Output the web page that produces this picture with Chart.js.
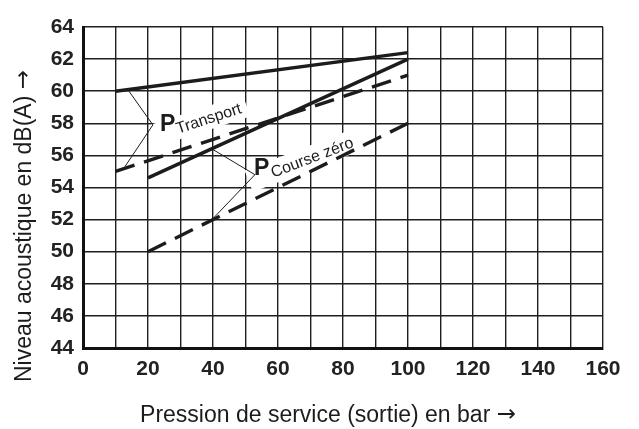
<!DOCTYPE html>
<html>
<head>
<meta charset="utf-8">
<script src="https://cdn.jsdelivr.net/npm/chart.js@4"></script>
<style>
  html, body { margin: 0; padding: 0; background: #fff; }
  canvas { display: block; }
</style>
</head>
<body>
<canvas id="c" width="639" height="429"></canvas>
<script>
// Pressure (bar) at start and end of each curve
const pressureTransport = [10, 100];
const pressureCourse = [20, 100];

// Noise level dB(A)
const levelTransportSolid = [60, 62.4];
const levelTransportDashed = [55, 61];
const levelCourseSolid = [54.6, 62];
const levelCourseDashed = [50, 58];

// Axis tick labels
const xTickLabels = [0, 20, 40, 60, 80, 100, 120, 140, 160];
const yTickLabels = [44, 46, 48, 50, 52, 54, 56, 58, 60, 62, 64];

const xTitle = 'Pression de service (sortie) en bar ';
const yTitle = 'Niveau acoustique en dB(A) ';
const ARROW = '\u2192';

// Curve labels: text, leader anchors (data units), text anchors (data units)
const curveLabels = [
  {
    main: 'P', sub: 'Transport',
    vertex: [21.5, 57.9],
    leaders: [[13.8, 60.1], [12.9, 55.3]],
    mainAt: [23.7, 57.55],
    subAt: [29.2, 57.35],
    angle: -18
  },
  {
    main: 'P', sub: 'Course z\u00e9ro',
    vertex: [52.9, 54.8],
    leaders: [[39.7, 56.4], [39.7, 52.0]],
    mainAt: [52.6, 54.75],
    subAt: [58.5, 54.6],
    angle: -21
  }
];

const INK = '#1c1c1c';

function pts(xs, ys) { return xs.map((x, i) => ({ x, y: ys[i] })); }

const SUB_FONT = '16px "Liberation Sans", Arial, sans-serif';
const MAIN_FONT = 'bold 23px "Liberation Sans", Arial, sans-serif';
const TITLE_FONT = '23px "Liberation Sans", Arial, sans-serif';
const ARROW_FONT = '23px "DejaVu Sans", sans-serif';

// Draws an axis title followed by an arrow, centred on (0,0) of the current transform
function drawTitle(ctx, text) {
  ctx.font = TITLE_FONT;
  const w1 = ctx.measureText(text).width;
  ctx.font = ARROW_FONT;
  const w2 = ctx.measureText(ARROW).width;
  const start = -(w1 + w2) / 2;
  ctx.textAlign = 'left';
  ctx.font = TITLE_FONT;
  ctx.fillText(text, start, 0);
  ctx.font = ARROW_FONT;
  ctx.fillText(ARROW, start + w1, -1);
}

const curveLabelPlugin = {
  id: 'curveLabels',
  beforeDatasetsDraw(chart) {
    const { ctx, scales: { x, y } } = chart;
    ctx.save();
    ctx.font = SUB_FONT;
    curveLabels.forEach(l => {
      const sx = x.getPixelForValue(l.subAt[0]);
      const sy = y.getPixelForValue(l.subAt[1]);
      const w = ctx.measureText(l.sub).width;
      ctx.save();
      ctx.translate(sx, sy);
      ctx.rotate(l.angle * Math.PI / 180);
      ctx.fillStyle = '#fff';
      ctx.fillRect(-24, -17, w + 30, 23);
      ctx.restore();
    });
    ctx.restore();
  },
  afterDatasetsDraw(chart) {
    const { ctx, scales: { x, y } } = chart;
    ctx.save();
    curveLabels.forEach(l => {
      const vx = x.getPixelForValue(l.vertex[0]);
      const vy = y.getPixelForValue(l.vertex[1]);
      ctx.strokeStyle = INK;
      ctx.lineWidth = 1;
      l.leaders.forEach(a => {
        ctx.beginPath();
        ctx.moveTo(vx, vy);
        ctx.lineTo(x.getPixelForValue(a[0]), y.getPixelForValue(a[1]));
        ctx.stroke();
      });
      ctx.fillStyle = INK;
      ctx.textAlign = 'left';
      ctx.textBaseline = 'alphabetic';
      ctx.font = MAIN_FONT;
      ctx.fillText(l.main, x.getPixelForValue(l.mainAt[0]), y.getPixelForValue(l.mainAt[1]));
      ctx.save();
      ctx.translate(x.getPixelForValue(l.subAt[0]), y.getPixelForValue(l.subAt[1]));
      ctx.rotate(l.angle * Math.PI / 180);
      ctx.font = SUB_FONT;
      ctx.fillText(l.sub, 0, 0);
      ctx.restore();
    });
    ctx.restore();
  },
  afterDraw(chart) {
    const { ctx } = chart;
    ctx.save();
    ctx.fillStyle = INK;
    ctx.textBaseline = 'alphabetic';
    ctx.save();
    ctx.translate(328, 422);
    drawTitle(ctx, xTitle);
    ctx.restore();
    ctx.translate(31, 226);
    ctx.rotate(-Math.PI / 2);
    drawTitle(ctx, yTitle);
    ctx.restore();
  }
};

const lineStyle = { borderColor: INK, borderWidth: 3.4, pointRadius: 0, tension: 0, fill: false, borderCapStyle: 'butt' };

new Chart(document.getElementById('c'), {
  type: 'line',
  data: {
    datasets: [
      { label: 'P Transport', data: pts(pressureTransport, levelTransportSolid), ...lineStyle },
      { label: 'P Transport', data: pts(pressureTransport, levelTransportDashed), ...lineStyle, borderDash: [20, 10] },
      { label: 'P Course zéro', data: pts(pressureCourse, levelCourseSolid), ...lineStyle },
      { label: 'P Course zéro', data: pts(pressureCourse, levelCourseDashed), ...lineStyle, borderDash: [20, 10] }
    ]
  },
  options: {
    responsive: false,
    devicePixelRatio: 1,
    animation: false,
    layout: { padding: { top: 27, right: 36, left: 0, bottom: 0 } },
    plugins: { legend: { display: false }, tooltip: { enabled: false } },
    scales: {
      x: {
        type: 'linear', min: 0, max: 160,
        grid: { color: '#1e1e1e', lineWidth: 1.4, drawTicks: false },
        border: { color: '#111', width: 3 },
        ticks: {
          stepSize: 10, autoSkip: false, maxRotation: 0, padding: 9,
          color: '#222', font: { family: '"Liberation Sans", Arial, sans-serif', size: 21, weight: 'bold' },
          callback: v => xTickLabels.includes(v) ? String(v) : ''
        },
        afterFit: s => { s.height = 81; }
      },
      y: {
        type: 'linear', min: 44, max: 64,
        grid: { color: '#1e1e1e', lineWidth: 1.4, drawTicks: false },
        border: { color: '#111', width: 3 },
        ticks: {
          stepSize: 2, autoSkip: false, padding: 9,
          color: '#222', font: { family: '"Liberation Sans", Arial, sans-serif', size: 21, weight: 'bold' },
          callback: v => yTickLabels.includes(v) ? String(v) : ''
        },
        afterFit: s => { s.width = 83; }
      }
    }
  },
  plugins: [curveLabelPlugin]
});
</script>
</body>
</html>
